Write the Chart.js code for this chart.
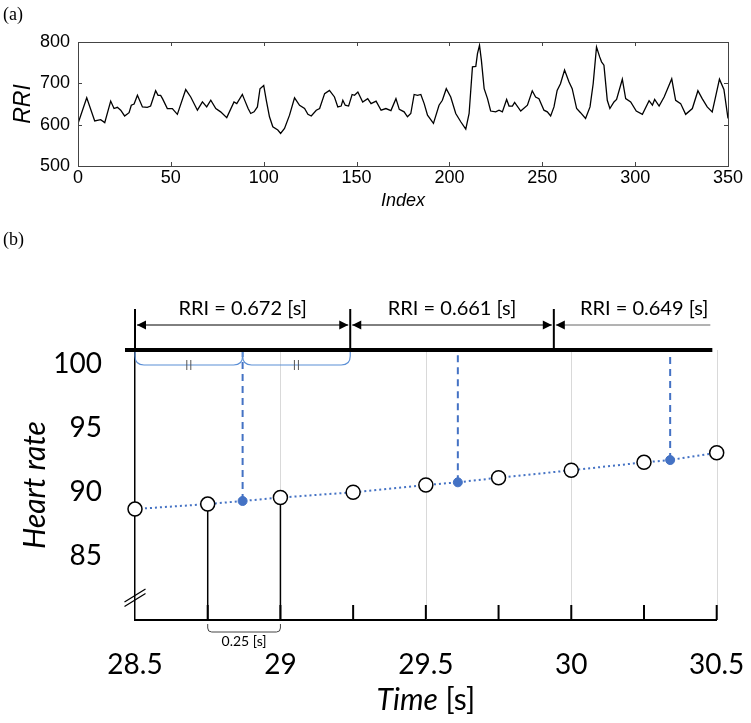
<!DOCTYPE html>
<html>
<head>
<meta charset="utf-8">
<script src="https://cdn.jsdelivr.net/npm/chart.js@4.4.1/dist/chart.umd.min.js"></script>
<style>
  html, body { margin: 0; padding: 0; background: #fff; }
  #wrap { position: relative; width: 751px; height: 723px; overflow: hidden; }
  canvas { position: absolute; left: 0; }
  #chartA { top: 0; width: 751px; height: 215px; }
  #chartB { top: 215px; width: 751px; height: 508px; }
  .panel { position: absolute; left: 3px; font: 18px "Liberation Serif", "DejaVu Serif", serif; color: #000; }
</style>
</head>
<body>
<div id="wrap">
  <canvas id="chartA" width="751" height="215"></canvas>
  <canvas id="chartB" width="751" height="508"></canvas>
  <div class="panel" style="top:4px">(a)</div>
  <div class="panel" style="top:229px">(b)</div>
</div>
<script>
/* global Chart */
// (a) RRI series (index, ms)
const rriIndex = [
  0, 4.7, 9, 12.2, 14.4, 17.6, 19.4, 21.2, 23, 25.1, 27.5, 28.7, 30.2, 32, 34.7, 37.3, 39.1,
  41.8, 43.1, 44.5, 45.5, 48.1, 50.8, 53.5, 58, 60.7, 64.3, 67, 69.3, 71.5, 74.2, 76.8, 80.1,
  84, 85.5, 88.5, 89.4, 91.6, 93, 94.8, 96.6, 98, 100, 101.4, 103.1, 104.9, 107.6, 109.1, 111.2,
  113.9, 116.6, 119.3, 122, 123.8, 125.6, 128.3, 130.1, 132.8, 135.4, 138.1, 139.9, 141.7, 142.6,
  143.9, 145.7, 147.6, 148.9, 150.7, 153.3, 156, 157.8, 160.5, 163.2, 165.8, 168.5, 171.2, 173,
  175.6, 177.4, 179.2, 181, 182.8, 184.6, 186.4, 188.2, 191.4, 194.4, 196.2, 198.3, 200.7, 203.4,
  206.1, 208.8, 210.6, 212.4, 214.2, 215.1, 216.2, 217.2, 218.7, 220.5, 222.2, 224.9, 226.7, 228.5,
  230.8, 232.1, 233.9, 235.1, 238.4, 242, 244.6, 246.4, 248.2, 250.9, 252.7, 254.5, 256.3, 258,
  259.8, 262, 264.4, 266.1, 268.5, 270.6, 273.3, 275.7, 277.4, 279.2, 280.9, 281.9, 283.2, 285,
  286.4, 288.6, 290, 293.1, 294.9, 297.6, 300.6, 303.9, 307.5, 309.3, 310.5, 312.9, 315.6, 317.3,
  319.7, 321.8, 324.5, 327.2, 330.8, 333.8, 336.1, 338.8, 341.5, 343.3, 345.4, 347.8, 350
];
const rriValues = [
  603, 665, 609, 612, 605, 657, 639, 642, 635, 621, 629, 647, 650, 671, 643, 642, 645,
  682, 671, 671, 663, 639, 639, 625, 685, 667, 635, 655, 643, 659, 639, 631, 617,
  655, 651, 673, 663, 639, 627, 631, 643, 687, 695, 659, 619, 595, 587, 579, 591,
  623, 665, 647, 639, 625, 621, 635, 639, 675, 683, 667, 643, 645, 659,
  647, 645, 673, 671, 679, 655, 663, 651, 657, 635, 639, 634, 663, 637,
  631, 619, 627, 673, 671, 673, 651, 623, 603, 647, 659, 687, 667, 627,
  607, 589, 627, 740, 741, 772, 792, 756, 687, 663, 633, 631, 635, 631,
  661, 645, 645, 654, 633, 647, 682, 667, 663, 635, 631, 621, 643, 683,
  699, 732, 703, 687, 639, 629, 615, 643, 699, 788, 764, 752, 744, 659,
  639, 655, 661, 710, 663, 655, 633, 625, 658, 647, 661, 645, 667, 685,
  711, 659, 651, 625, 639, 682, 663, 643, 631, 667, 710, 685, 615
];

// (b) heart rate samples
const hrTimes = [28.5, 28.75, 29, 29.25, 29.5, 29.75, 30, 30.25, 30.5];
const hrValues = [88.67, 89.06, 89.57, 89.98, 90.55, 91.12, 91.7, 92.32, 93.07];
const beatMidTimes = [28.87, 29.61, 30.34];
const beatMidValues = [89.3, 90.76, 92.5];
const beatTimes = [28.5, 29.24, 29.94];
const rriLabels = ["RRI = 0.672 [s]", "RRI = 0.661 [s]", "RRI = 0.649 [s]"];
const rriLastEnd = 30.485;
const hrYTicks = [85, 90, 95, 100];
const timeTickMarks = [28.75, 29, 29.25, 29.5, 29.75, 30, 30.25, 30.5];
const timeGrid = [29, 29.5, 30, 30.5];
const stemTimes = [28.75, 29];

const BLUE = "#4472C4";
const SANS_A = "'Liberation Sans', Arial, sans-serif";
const SANS_B = "Lato, 'Open Sans', sans-serif";

function line(ctx, x1, y1, x2, y2) {
  ctx.beginPath();
  ctx.moveTo(x1, y1);
  ctx.lineTo(x2, y2);
  ctx.stroke();
}

// keep the plot box where we put it, no extra room for end labels
function noSidePad(s) {
  s.paddingLeft = 0;
  s.paddingRight = 0;
}

// frame + inward ticks for (a)
const frameA = {
  id: "frameA",
  afterDraw(chart) {
    const { ctx, chartArea: a, scales: { x, y } } = chart;
    ctx.save();
    ctx.strokeStyle = "#444";
    ctx.lineWidth = 1;
    ctx.strokeRect(a.left + 0.5, a.top + 0.5, a.right - a.left, a.bottom - a.top);
    for (const t of x.ticks) {
      const px = Math.round(x.getPixelForValue(t.value)) + 0.5;
      line(ctx, px, a.bottom, px, a.bottom - 4);
      line(ctx, px, a.top, px, a.top + 4);
    }
    for (const t of y.ticks) {
      const py = Math.round(y.getPixelForValue(t.value)) + 0.5;
      line(ctx, a.left, py, a.left + 4, py);
      line(ctx, a.right, py, a.right - 4, py);
    }
    ctx.restore();
  },
};

new Chart(document.getElementById("chartA"), {
  type: "line",
  data: {
    datasets: [{
      data: rriIndex.map((v, i) => ({ x: v, y: rriValues[i] })),
      borderColor: "#000",
      borderWidth: 1.3,
      pointRadius: 0,
      tension: 0,
    }],
  },
  options: {
    responsive: false,
    animation: false,
    layout: { padding: { left: 0, right: 23, top: 42, bottom: 0 } },
    plugins: { legend: { display: false }, tooltip: { enabled: false } },
    scales: {
      x: {
        type: "linear", min: 0, max: 350,
        ticks: { stepSize: 50, color: "#000", font: { family: SANS_A, size: 18 }, padding: 1, maxRotation: 0 },
        grid: { display: false, drawTicks: false },
        border: { display: false },
        title: { display: true, text: "Index", color: "#000", font: { family: SANS_A, size: 18, style: "italic" }, padding: { top: 0, bottom: 3 } },
        afterFit(s) { s.height = 49; noSidePad(s); },
      },
      y: {
        min: 500, max: 800,
        ticks: { stepSize: 100, color: "#000", font: { family: SANS_A, size: 18 }, padding: 8 },
        grid: { display: false, drawTicks: false },
        border: { display: false },
        title: { display: true, text: "RRI", color: "#000", font: { family: SANS_A, size: 23, style: "italic" }, padding: { top: 10, bottom: 0 } },
        afterFit(s) { s.width = 78; },
      },
    },
  },
  plugins: [frameA],
});

function arrowHead(ctx, x, y, dir) {
  ctx.beginPath();
  ctx.moveTo(x, y);
  ctx.lineTo(x - dir * 9, y - 4.5);
  ctx.lineTo(x - dir * 9, y + 4.5);
  ctx.closePath();
  ctx.fill();
}

function bracket(ctx, x1, x2, y, h, r) {
  ctx.beginPath();
  ctx.moveTo(x1, y);
  ctx.lineTo(x1, y + h - r);
  ctx.quadraticCurveTo(x1, y + h, x1 + r, y + h);
  ctx.lineTo(x2 - r, y + h);
  ctx.quadraticCurveTo(x2, y + h, x2, y + h - r);
  ctx.lineTo(x2, y);
  ctx.stroke();
}

const annoB = {
  id: "annoB",
  beforeDatasetsDraw(chart) {
    const { ctx, chartArea: a, scales: { x, y } } = chart;
    ctx.save();
    // light guides
    ctx.strokeStyle = "#d9d9d9";
    ctx.lineWidth = 1;
    for (const t of timeGrid) {
      const px = Math.round(x.getPixelForValue(t)) + 0.5;
      line(ctx, px, a.top, px, a.bottom);
    }
    // stems
    ctx.strokeStyle = "#000";
    ctx.lineWidth = 1.5;
    for (const t of stemTimes) {
      const i = hrTimes.indexOf(t);
      const px = x.getPixelForValue(t);
      line(ctx, px, y.getPixelForValue(hrValues[i]), px, a.bottom);
    }
    // tick marks on time axis
    ctx.lineWidth = 2;
    for (const t of timeTickMarks) {
      const px = x.getPixelForValue(t);
      line(ctx, px, a.bottom, px, a.bottom - 15);
    }
    // axis break
    ctx.lineWidth = 1.3;
    const bx = a.left;
    line(ctx, bx - 10.5, a.bottom - 13.5, bx + 10.5, a.bottom - 26.5);
    line(ctx, bx - 10.5, a.bottom - 18, bx + 10.5, a.bottom - 31);
    // dashed drops to the beat axis
    ctx.strokeStyle = BLUE;
    ctx.lineWidth = 2;
    ctx.setLineDash([7, 5]);
    beatMidTimes.forEach((t, i) => {
      const px = x.getPixelForValue(t);
      line(ctx, px, y.getPixelForValue(beatMidValues[i]), px, a.top);
    });
    ctx.restore();
  },
  afterDatasetsDraw(chart) {
    const { ctx, chartArea: a, scales: { x } } = chart;
    const T = a.top;
    ctx.save();
    ctx.strokeStyle = "#000";
    ctx.fillStyle = "#000";
    // beat axis
    ctx.lineWidth = 4;
    line(ctx, a.left - 10, T, x.getPixelForValue(rriLastEnd), T);
    ctx.lineWidth = 2;
    const bp = beatTimes.map((t) => x.getPixelForValue(t));
    bp.forEach((px) => line(ctx, px, T - 41, px, T));
    // arrows and labels
    ctx.lineWidth = 1;
    const ay = T - 25;
    ctx.font = `20px ${SANS_B}`;
    ctx.textBaseline = "alphabetic";
    for (let i = 0; i < beatTimes.length; i++) {
      const x1 = bp[i] + 2;
      const last = i === beatTimes.length - 1;
      const x2 = last ? x.getPixelForValue(rriLastEnd) - 2 : bp[i + 1] - 2;
      ctx.strokeStyle = last ? "#666" : "#000";
      line(ctx, x1, ay, x2, ay);
      arrowHead(ctx, x1, ay, -1);
      if (!last) arrowHead(ctx, x2, ay, 1);
      if (last) {
        ctx.textAlign = "right";
        ctx.fillText(rriLabels[i], x2 - 2, T - 35);
      } else {
        ctx.textAlign = "center";
        ctx.fillText(rriLabels[i], (x1 + x2) / 2, T - 35);
      }
    }
    // blue half-interval braces
    ctx.strokeStyle = "#5b8fd6";
    ctx.lineWidth = 1.2;
    const mid = x.getPixelForValue(beatMidTimes[0]);
    const spans = [[bp[0], mid], [mid, bp[1]]];
    for (const [s, e] of spans) {
      bracket(ctx, s, e, T + 2, 13, 9);
      const c = (s + e) / 2;
      ctx.save();
      ctx.strokeStyle = "#555";
      ctx.lineWidth = 1;
      line(ctx, c - 2, T + 10, c - 2, T + 20);
      line(ctx, c + 2, T + 10, c + 2, T + 20);
      ctx.restore();
    }
    // 0.25 s bracket under the axis
    const s1 = x.getPixelForValue(stemTimes[0]);
    const s2 = x.getPixelForValue(stemTimes[1]);
    ctx.strokeStyle = "#444";
    ctx.lineWidth = 1;
    bracket(ctx, s1, s2, a.bottom + 4, 8, 4);
    ctx.fillStyle = "#000";
    ctx.font = `14px ${SANS_B}`;
    ctx.textAlign = "center";
    ctx.textBaseline = "middle";
    ctx.fillText("0.25 [s]", (s1 + s2) / 2, a.bottom + 21);
    // axis title: italic "Time" + " [s]"
    const fi = `italic 30px ${SANS_B}`;
    const fr = `30px ${SANS_B}`;
    ctx.font = fi;
    const w1 = ctx.measureText("Time").width;
    ctx.font = fr;
    const w2 = ctx.measureText(" [s]").width;
    const cx = x.getPixelForValue(29.5);
    const ty = a.bottom + 80;
    ctx.textAlign = "left";
    ctx.font = fi;
    ctx.fillText("Time", cx - (w1 + w2) / 2, ty);
    ctx.font = fr;
    ctx.fillText(" [s]", cx - (w1 + w2) / 2 + w1, ty);
    ctx.restore();
  },
};

const hrPoints = hrTimes.map((t, i) => ({ x: t, y: hrValues[i] }));
const midPoints = beatMidTimes.map((t, i) => ({ x: t, y: beatMidValues[i] }));
const allPoints = hrPoints.concat(midPoints).sort((p, q) => p.x - q.x);

new Chart(document.getElementById("chartB"), {
  type: "scatter",
  data: {
    datasets: [
      { data: hrPoints, pointRadius: 7, pointBackgroundColor: "#fff", pointBorderColor: "#000", pointBorderWidth: 1.5, showLine: false, clip: false, order: 1 },
      { data: midPoints, pointRadius: 4.5, pointBackgroundColor: BLUE, pointBorderColor: BLUE, pointBorderWidth: 1, showLine: false, clip: false, order: 2 },
      { data: allPoints, showLine: true, borderColor: BLUE, borderWidth: 2, borderDash: [2, 3], pointRadius: 0, clip: false, order: 3 },
    ],
  },
  options: {
    responsive: false,
    animation: false,
    layout: { padding: { left: 0, right: 34.3, top: 135, bottom: 0 } },
    plugins: { legend: { display: false }, tooltip: { enabled: false } },
    scales: {
      x: {
        type: "linear", min: 28.5, max: 30.5,
        ticks: { stepSize: 0.5, color: "#000", font: { family: SANS_B, size: 28 }, padding: 28, maxRotation: 0, callback: (v) => String(v) },
        grid: { display: false, drawTicks: false },
        border: { display: true, color: "#000", width: 2 },
        afterFit(s) { s.height = 103; noSidePad(s); },
      },
      y: {
        min: 80, max: 101.1,
        afterBuildTicks(s) { s.ticks = hrYTicks.map((v) => ({ value: v })); },
        ticks: { color: "#000", font: { family: SANS_B, size: 28 }, padding: 33 },
        grid: { display: false, drawTicks: false },
        border: { display: true, color: "#000", width: 1.5 },
        title: { display: true, text: "Heart rate", color: "#000", font: { family: SANS_B, size: 30, style: "italic" }, padding: { top: 17, bottom: 0 } },
        afterFit(s) { s.width = 135; },
      },
    },
  },
  plugins: [annoB],
});
</script>
</body>
</html>
